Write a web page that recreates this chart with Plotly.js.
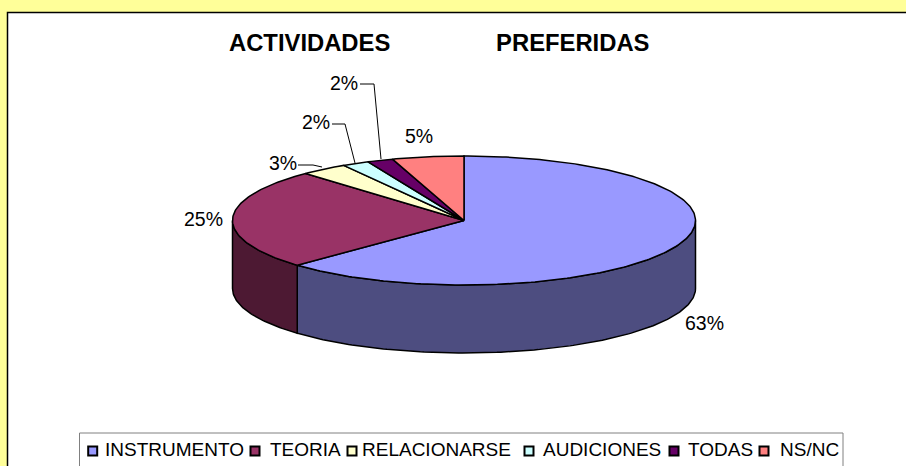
<!DOCTYPE html>
<html><head><meta charset="utf-8">
<script src="https://cdn.plot.ly/plotly-3.0.1.min.js"></script>
<style>html,body{margin:0;padding:0;background:#FFFF99}#c{width:906px;height:466px}</style>
</head><body><div id="c"></div>
<script>
const categories = ['INSTRUMENTO','TEORIA','RELACIONARSE','AUDICIONES','TODAS','NS/NC'];
const values = [62.8,25.2,3.3,1.9,1.8,5.0];
const labels = ['63%','25%','3%','2%','2%','5%'];
const colors = ['#9999FF','#993366','#FFFFCC','#CCFFFF','#660066','#FF8080'];
const wallColors = ['#4D4D80','#4D1933'];
const titleText = 'ACTIVIDADES                PREFERIDAS';

const cx=464, cy=220.5, rx=231.5, ry=64.5, depth=68;
const total = values.reduce((a,b)=>a+b,0);
function pt(a,d){return [cx+rx*Math.sin(a), cy-ry*Math.cos(a)+(d||0)];}
function arc(a0,a1,d){const n=Math.max(2,Math.ceil(Math.abs(a1-a0)*60));const r=[];
  for(let i=0;i<=n;i++)r.push(pt(a0+(a1-a0)*i/n,d));return r;}
const traces=[];
function poly(points,fill,name){
  traces.push({type:'scatter',mode:'lines',x:points.map(p=>p[0]),y:points.map(p=>p[1]),
    fill:'toself',fillcolor:fill,line:{color:'#000',width:1.5},hoverinfo:'skip',showlegend:false,name:name});
}
let cum=0; const bounds=values.map(v=>{const s=cum;cum+=v;return [s/total*2*Math.PI,cum/total*2*Math.PI];});
bounds.forEach((b,i)=>{
  const a0=Math.max(b[0],Math.PI/2),a1=Math.min(b[1],1.5*Math.PI);
  if(a1>a0){poly(arc(a0,a1,0).concat(arc(a1,a0,depth),[pt(a0,0)]),wallColors[i],categories[i]);}
});
bounds.forEach((b,i)=>{poly([[cx,cy]].concat(arc(b[0],b[1],0),[[cx,cy]]),colors[i],categories[i]);});

const leaderPts=[[[332,124],[345,124],[355,163]],[[360,84],[374,84],[381,159]],[[298,165],[313,165],[322,167]]];
leaderPts.forEach(l=>traces.push({type:'scatter',mode:'lines',x:l.map(p=>p[0]),y:l.map(p=>p[1]),
  line:{color:'#000',width:1},hoverinfo:'skip',showlegend:false}));

const swatchX=[92.7,255,352,529,674,764];
const legendTextX=[102.5,268,360,541,686,778];
traces.push({type:'scatter',mode:'markers',x:swatchX,y:categories.map(()=>451),
  marker:{symbol:'square',size:9,color:colors,line:{color:'#000',width:2}},hoverinfo:'skip',showlegend:false});

const T=(text,x,y,size,anchor,bold)=>({text:bold?'<b>'+text+'</b>':text,x:x,y:y,xref:'x',yref:'y',showarrow:false,
  xanchor:anchor||'center',yanchor:'middle',font:{family:'"Liberation Sans",Arial,sans-serif',size:size,color:'#000'}});
const labelPos=[[704.5,323],[203,219],[282.5,163],[315.5,122],[343.5,83],[419,136]];
const annotations=[T(titleText.replace(/ /g,'&nbsp;'),438.5,42,23.8,'center',true)];
labels.forEach((s,i)=>annotations.push(T(s,labelPos[i][0],labelPos[i][1],19.5)));
categories.forEach((s,i)=>annotations.push(T(s,legendTextX[i],449.5,19,'left')));

const layout={width:906,height:466,margin:{l:0,r:0,t:0,b:0},paper_bgcolor:'#FFFF99',plot_bgcolor:'#FFFF99',showlegend:false,
  xaxis:{range:[0,906],visible:false,fixedrange:true},yaxis:{range:[466,0],visible:false,fixedrange:true},
  shapes:[
   {type:'rect',xref:'x',yref:'y',x0:7.5,y0:12.5,x1:920,y1:480,fillcolor:'#FFF',line:{color:'#000',width:1.5},layer:'below'},
   {type:'rect',xref:'x',yref:'y',x0:79.5,y0:433,x1:843,y1:480,fillcolor:'#FFF',line:{color:'#808080',width:1},layer:'below'}
  ],annotations:annotations};
Plotly.newPlot('c',traces,layout,{displayModeBar:false,staticPlot:true});
</script></body></html>
